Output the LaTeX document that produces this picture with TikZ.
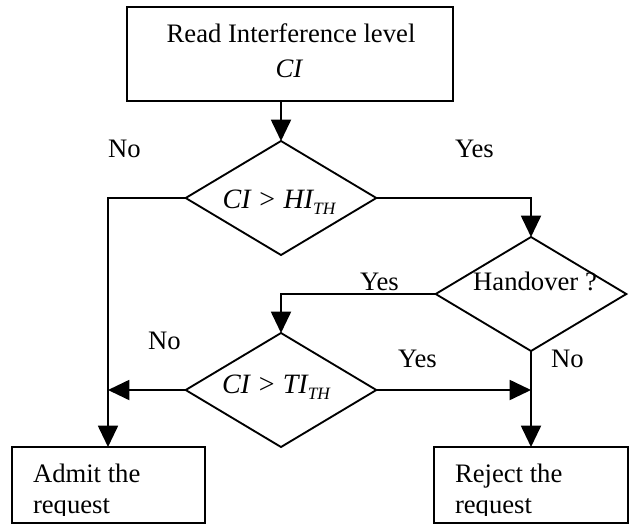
\documentclass[tikz,border=0pt]{standalone}
\usepackage{fontspec}
\setmainfont{Liberation Serif}
\usetikzlibrary{shapes.geometric,arrows.meta}
\newcommand\thsub[1]{\raisebox{-4.5pt}{\fontsize{13}{13}\selectfont\itshape #1}}
\begin{document}
\begin{tikzpicture}[x=0.75pt,y=-0.75pt,
  flow/.style={draw, line width=1.4pt, -{Triangle[length=16pt,width=15pt]}},
  box/.style={draw, rectangle, line width=1.4pt, inner sep=0pt, outer sep=0pt},
  decision/.style={draw, diamond, line width=1.4pt, inner sep=0pt, outer sep=0pt,
    minimum width=143pt, minimum height=85.5pt},
  txt/.style={inner sep=0pt, outer sep=0pt, font=\fontsize{20}{24}\selectfont},
  cond/.style={inner sep=0pt, outer sep=0pt, font=\fontsize{21}{24}\selectfont\itshape},
]
\useasboundingbox (0,0) rectangle (634,525);

% boxes and decisions
\node[box, minimum width=244.5pt, minimum height=70.5pt] (read) at (290,54) {};
\node[decision] (d1) at (281,198) {};
\node[decision] (d2) at (531,294) {};
\node[decision] (d3) at (281,390) {};
\node[box, minimum width=144.75pt, minimum height=57pt] (admit) at (108.5,485) {};
\node[box, minimum width=145.5pt, minimum height=57pt] (reject) at (531,485) {};

% texts inside shapes
\node[txt, anchor=base] (readtxt) at (291,42) {Read Interference level};
\node[txt, anchor=base] (citxt) at (289,77) {\itshape CI};
\node[cond, anchor=base] (c1) at (279,208) {CI > HI\thsub{TH}};
\node[txt, anchor=base] (c2) at (535,290) {Handover ?};
\node[cond, anchor=base] (c3) at (276,393) {CI > TI\thsub{TH}};

\begin{scope}
  \clip (0,0) rectangle (634,515.5);
  \node[txt, anchor=base west] (admit1) at (33,482) {Admit the};
  \node[txt, anchor=base west] (admit2) at (33,513) {request};
  \node[txt, anchor=base west] (reject1) at (455,482) {Reject the};
  \node[txt, anchor=base west] (reject2) at (455,513) {request};
\end{scope}

% branch labels
\node[txt, anchor=base west] (no1) at (108,157) {No};
\node[txt, anchor=base west] (yes1) at (455,157) {Yes};
\node[txt, anchor=base west] (yes2) at (360,290) {Yes};
\node[txt, anchor=base west] (no2) at (148,349) {No};
\node[txt, anchor=base west] (yes3) at (398,367) {Yes};
\node[txt, anchor=base west] (no3) at (551,367) {No};

% connectors
\coordinate (lc) at (108,198);
\draw[flow] (d1.north |- read.south) -- (d1.north);
\draw[flow] (d1.east) -| (d2.north);
\draw[flow] (d1.west) -- (lc) -- (lc |- admit.north);
\draw[flow] (d2.west) -| (d3.north);
\draw[flow] (d3.west) -- (d3.west -| lc);
\draw[flow] (d3.east) -- (d3.east -| d2.south);
\draw[flow] (d2.south) -- (d2.south |- reject.north);
\end{tikzpicture}
\end{document}
